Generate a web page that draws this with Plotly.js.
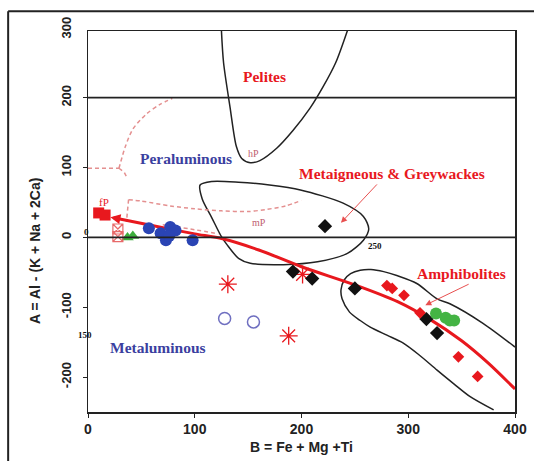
<!DOCTYPE html>
<html><head><meta charset="utf-8">
<script src="https://cdn.plot.ly/plotly-3.0.1.min.js"></script>
<style>body{margin:0;background:#fff}#chart{width:534px;height:461px}</style>
</head><body><div id="chart"></div>
<script>
// ---- data ----
const trendX = [24, 60, 100, 126, 160, 200, 250, 290, 320, 350, 375, 400];
const trendY = [28, 17, 5, -2, -18, -42, -68, -92, -117, -148, -180, -217];

const pelitesX = [125, 127, 133, 139, 144, 152, 161, 177, 192, 208, 220, 232, 243];
const pelitesY = [296, 250, 187, 130, 113, 107, 110, 128, 153, 185, 215, 250, 296];

const metaX = [105, 116, 141, 170, 199, 239, 258, 263, 258, 243, 215, 183, 152, 141, 130, 125, 116, 107, 105];
const metaY = [75, 80, 79, 75, 68, 49, 30, 12, -4, -23, -35, -39, -37, -30, -10, 1, 28, 55, 75];

const amphX = [400, 370, 339, 327, 308, 290, 277, 265, 255, 246, 240, 237, 238, 245, 255, 264, 280, 295, 310, 327, 343, 358, 380];
const amphY = [-157, -123, -95, -88, -66, -55, -49, -46, -47, -52, -61, -75, -88, -107, -119, -128, -140, -151, -168, -190, -210, -228, -247];

const dash1aX = [0, 29];
const dash1aY = [99, 99];
const dash1X = [29, 35, 42, 55, 67, 79];
const dash1Y = [99, 130, 155, 177, 190, 199];
const dash1bX = [29, 34, 37];
const dash1bY = [99, 93, 84];
const dash2X = [38, 50, 77, 100, 125, 150, 167, 185, 200];
const dash2Y = [54, 52, 45, 41, 38, 37, 40, 45, 53];
const dash2bX = [38, 36];
const dash2bY = [54, 22];
const dash3X = [70, 100, 122];
const dash3Y = [18, 11, 5];

const blueX = [57, 68, 73, 77, 82, 76, 98];
const blueY = [13, 6, -4, 15, 10, 2, -4];
const greenTriX = [37, 42];
const greenTriY = [0, 2];
const redSqX = [10, 16];
const redSqY = [35, 32];
const crossBoxX = [28, 28];
const crossBoxY = [12, 1];
const blackX = [222, 192, 210, 250, 317, 327];
const blackY = [16, -49, -59, -73, -117, -137];
const redDiaX = [280, 285, 296, 311, 347, 365];
const redDiaY = [-69, -73, -83, -108, -171, -199];
const greenX = [326, 335, 343, 339];
const greenY = [-109, -115, -119, -119];
const starX = [131, 188, 201];
const starY = [-67, -141, -53];
const openX = [128, 155];
const openY = [-116, -121];

const refLines = [0, 200];
const yTickVals = [-200, -100, 0, 100, 200];
const yTickText = ['-200', '-100', '0', '100', '200'];
const xTickVals = [0, 100, 200, 300, 400];

// ---- styling ----
const RED = '#e8181e';
const PINK = '#e49090';
const BLACKLINE = '#222';
const SANS = 'Liberation Sans, Arial, sans-serif';

function line(x, y, color, width, dash, shape) {
  return {x, y, mode: 'lines', type: 'scatter', hoverinfo: 'skip',
    line: {color, width, dash: dash || 'solid', shape: shape || 'spline', smoothing: 0.8}};
}
function pts(x, y, symbol, color, size, lineColor, lw) {
  return {x, y, mode: 'markers', type: 'scatter',
    marker: {symbol, color, size, line: {color: lineColor || color, width: lw || 0}}};
}
const DASH = '4px,3px';

const traces = [
  line(pelitesX, pelitesY, BLACKLINE, 1.5),
  line(metaX, metaY, BLACKLINE, 1.5),
  line(amphX, amphY, BLACKLINE, 1.5),
  line(dash1aX, dash1aY, PINK, 1.5, DASH, 'linear'),
  line(dash1X, dash1Y, PINK, 1.5, DASH),
  line(dash1bX, dash1bY, PINK, 1.5, DASH, 'linear'),
  line(dash2X, dash2Y, PINK, 1.5, DASH),
  line(dash2bX, dash2bY, PINK, 1.5, DASH, 'linear'),
  line(dash3X, dash3Y, PINK, 1.5, DASH),
  line(trendX, trendY, RED, 3),
  pts(starX, starY, 'asterisk-open', RED, 15, RED, 1.3),
  pts(blueX, blueY, 'circle', '#2a44b4', 12),
  pts(greenTriX, greenTriY, 'triangle-up', '#3cae3c', 11),
  pts(crossBoxX, crossBoxY, 'square-x-open', '#e86a6a', 10, '#e86a6a', 1.2),
  pts(redSqX, redSqY, 'square', RED, 11),
  pts(blackX, blackY, 'diamond', '#111', 11),
  pts(redDiaX, redDiaY, 'diamond', RED, 9),
  pts(greenX, greenY, 'circle', '#44b444', 12),
  pts(openX, openY, 'circle-open', '#6f6fc0', 12, '#6f6fc0', 1.5)
];

const serif = 'Liberation Serif, Times New Roman, serif';
function label(text, x, y, color, size, bold) {
  return {x, y, xref: 'x', yref: 'y', text: bold === false ? text : '<b>' + text + '</b>', showarrow: false,
    font: {family: serif, size, color}};
}
const annotations = [
  label('Pelites', 165, 230, RED, 15.5),
  label('Peraluminous', 92, 113, '#3b3fa0', 15.5),
  label('Metaigneous &amp; Greywackes', 285, 92, RED, 15.5),
  label('Amphibolites', 350, -52, RED, 15.5),
  label('Metaluminous', 66, -157, '#3b3fa0', 15.5),
  label('fP', 15, 50, RED, 11, false),
  label('mP', 160, 22, '#c06070', 10, false),
  label('hP', 155, 120, '#c06070', 10, false),
  label('250', 269, -13, '#111', 9),
  {x: -0.014, y: 0.472, xref: 'paper', yref: 'paper', text: '<b>0</b>', showarrow: false,
    font: {family: serif, size: 9, color: '#111'}},
  {x: -0.027, y: 0.1845, xref: 'paper', yref: 'paper', text: '<b>150</b>', showarrow: false,
    font: {family: serif, size: 9, color: '#111'}},
  {x: 237, y: 21, ax: 272, ay: 78, xref: 'x', yref: 'y', axref: 'x', ayref: 'y', text: '', showarrow: true,
    arrowhead: 2, arrowsize: 1.2, arrowwidth: 1, arrowcolor: '#e85050'},
  {x: 316, y: -97, ax: 358, ay: -66, xref: 'x', yref: 'y', axref: 'x', ayref: 'y', text: '', showarrow: true,
    arrowhead: 2, arrowsize: 1.2, arrowwidth: 1, arrowcolor: '#e85050'},
  {x: 21, y: 29, ax: 34, ay: 25, xref: 'x', yref: 'y', axref: 'x', ayref: 'y', text: '', showarrow: true,
    arrowhead: 2, arrowsize: 1, arrowwidth: 2, arrowcolor: RED},
  {x: -0.124, y: 0.4226, xref: 'paper', yref: 'paper', text: '<b>A = Al - (K + Na + 2Ca)</b>', textangle: -90,
    showarrow: false, font: {family: SANS, size: 14, color: '#222'}, xanchor: 'center', yanchor: 'middle'},
  {x: -0.05, y: 1.0085, xref: 'paper', yref: 'paper', text: '<b>300</b>', textangle: -90, showarrow: false,
    font: {family: SANS, size: 13, color: '#222'}, xanchor: 'center', yanchor: 'middle'}
];

const shapes = refLines.map(v => ({type: 'line', xref: 'x', yref: 'y', x0: 0, x1: 400, y0: v, y1: v,
  line: {color: BLACKLINE, width: 1.8}}));
shapes.push({type: 'line', xref: 'paper', yref: 'paper', x0: -0.187, x1: 1.06, y0: 1.052, y1: 1.052, line: {color: '#222', width: 2}});
shapes.push({type: 'line', xref: 'paper', yref: 'paper', x0: -0.187, x1: -0.187, y0: 1.052, y1: -0.2, line: {color: '#222', width: 2}});

const layout = {
  width: 534, height: 461,
  margin: {l: 88, r: 19, t: 31, b: 49},
  paper_bgcolor: '#fff', plot_bgcolor: '#fff',
  showlegend: false,
  xaxis: {range: [0, 400], tickvals: xTickVals, ticks: 'outside', ticklen: 4, tickcolor: '#222',
    showline: true, mirror: true, linecolor: '#222', linewidth: 1.5, showgrid: false, zeroline: false,
    tickfont: {family: SANS, size: 14, color: '#222', weight: 'bold'},
    title: {text: '<b>B = Fe + Mg +Ti</b>', font: {family: SANS, size: 14, color: '#222'}, standoff: 6}},
  yaxis: {range: [-250, 295.5], tickvals: yTickVals, ticktext: yTickText, tickangle: -90,
    ticks: 'outside', ticklen: 4, tickcolor: '#222', ticklabelstandoff: 6,
    showline: true, mirror: true, linecolor: '#222', linewidth: 1.5, showgrid: false, zeroline: false,
    tickfont: {family: SANS, size: 13, color: '#222', weight: 'bold'}},
  annotations, shapes
};

Plotly.newPlot('chart', traces, layout, {displayModeBar: false, staticPlot: true});
</script>
</body></html>
